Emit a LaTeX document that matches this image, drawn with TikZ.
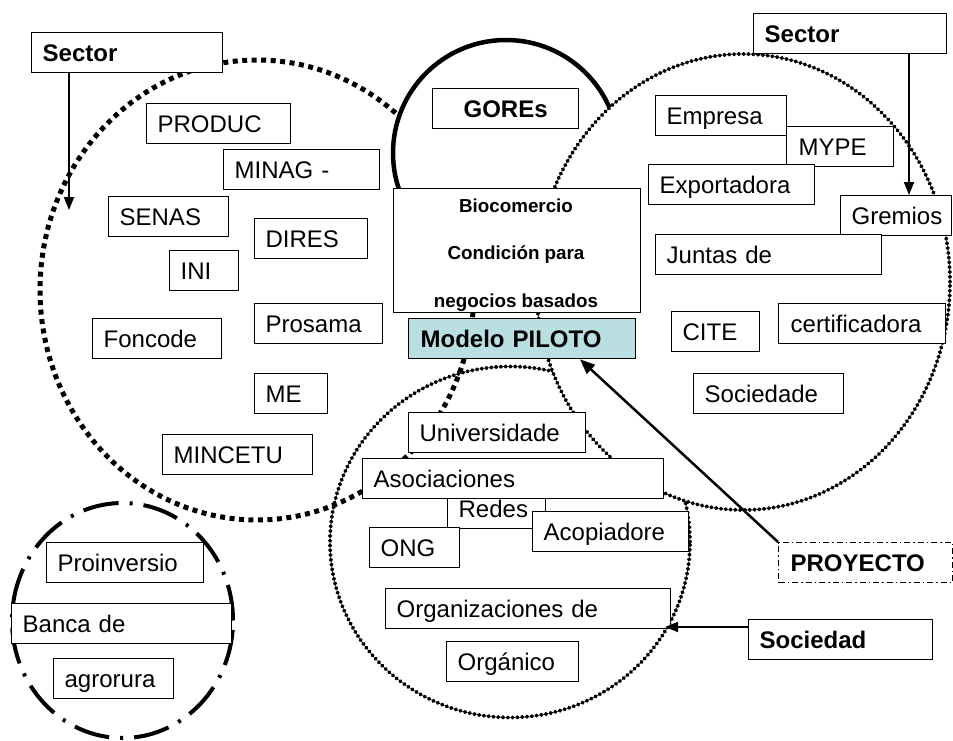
\documentclass[tikz,border=0pt]{standalone}
\usepackage{fontspec}
\setmainfont{Liberation Sans}
\usetikzlibrary{arrows.meta}
\definecolor{pilot}{RGB}{185,223,226}
\begin{document}
\begin{tikzpicture}[x=1pt,y=-1pt,
  bx/.style={draw, line width=1.3pt, fill=white, rectangle, anchor=north west, inner xsep=11pt, inner ysep=0pt, text height=17pt, text depth=0pt, minimum height=40pt, align=left, font=\fontsize{24pt}{28pt}\selectfont},
  bbx/.style={bx, font=\fontsize{24pt}{28pt}\selectfont\bfseries},
  sqdot/.style={line width=5pt, dash pattern=on 5pt off 4.5pt},
  rddot/.style={line width=3.8pt, line cap=round, dash pattern=on 0.8pt off 4pt},
  arr/.style={line width=1.8pt, -{Triangle[length=13pt,width=10pt]}},
  parr/.style={line width=2.5pt, -{Triangle[length=15pt,width=12pt]}},
  biotxt/.style={font=\fontsize{18.8pt}{22pt}\selectfont\bfseries, anchor=base, inner sep=0pt}
]
\useasboundingbox (0,0) rectangle (953,741);

% circles
\draw[sqdot] (257,290) ellipse [x radius=217pt, y radius=230pt];
\draw[line width=4pt, dash pattern=on 36pt off 11pt on 3pt off 11pt] (122.5,620.5) ellipse [x radius=110.5pt, y radius=117.5pt];
\draw[line width=4.5pt, fill=white] (506,153) circle [radius=113pt];
\draw[rddot] (510,542) ellipse [x radius=180pt, y radius=175.5pt];
\draw[rddot, fill=white] (743,282) ellipse [x radius=207pt, y radius=228pt];

% left sector
\node[bbx, text width=169pt] (sectorL) at (31,32) {Sector};
\node[bx, text width=122pt] (produc) at (146,103) {PRODUC};
\node[bx, text width=134pt] (minag) at (223,149) {MINAG -};
\node[bx, text width=98pt] (senas) at (108,196) {SENAS};
\node[bx, text width=91pt] (dires) at (254,218) {DIRES};
\node[bx, text width=47pt] (ini) at (169,250) {INI};
\node[bx, text width=106pt] (prosama) at (254,303) {Prosama};
\node[bx, text width=107pt] (foncode) at (92,318) {Foncode};
\node[bx, text width=51pt] (me) at (254,373) {ME};
\node[bx, text width=128pt] (mincetu) at (162,434) {MINCETU};

% center
\node[bbx, text width=124pt, align=center] (gores) at (432,88) {GOREs};
\node[draw, line width=1.3pt, fill=white, anchor=north west, minimum width=247pt, minimum height=124pt, inner sep=0pt] (bio) at (393,188) {};
\begin{scope}
\clip (394,189) rectangle (639,311);
\node[biotxt] (bt1) at (516,212) {Biocomercio};
\node[biotxt] (bt2) at (516,259.5) {Condición para};
\node[biotxt] (bt3) at (516,307) {negocios basados};
\end{scope}
\node[bbx, fill=pilot, inner xsep=12pt, text width=203pt] (piloto) at (408,318) {Modelo PILOTO};

% right sector
\node[bbx, text width=171pt] (sectorR) at (753,13) {Sector};
\node[bx, text width=109pt] (empresa) at (655,95) {Empresa};
\node[bx, inner xsep=12pt, text width=83pt] (mype) at (786,126) {MYPE};
\node[bx, text width=144pt] (export) at (648,164) {Exportadora};
\node[bx, text width=89pt] (gremios) at (840,195) {Gremios};
\node[bx, text width=204pt] (juntas) at (655,234) {Juntas de};
\node[bx, text width=66pt] (cite) at (671,311) {CITE};
\node[bx, inner xsep=12pt, text width=143pt] (certif) at (778,303) {certificadora};
\node[bx, text width=128pt] (socied) at (693,373) {Sociedade};
\node[bbx, inner xsep=12pt, text width=150pt, dash pattern=on 6pt off 3pt on 1.5pt off 3pt] (proyecto) at (778,542) {PROYECTO};
\node[bbx, text width=162pt] (sociedad) at (748,619) {Sociedad};

% lower
\node[bx, text width=76pt] (redes) at (447,488) {Redes};
\node[bx, text width=279pt] (asoc) at (362,458) {Asociaciones};
\node[bx, text width=155pt] (univ) at (408,412) {Universidade};
\node[bx, text width=68pt] (ong) at (369,527) {ONG};
\node[bx, text width=134pt] (acop) at (532,511) {Acopiadore};
\node[bx, text width=263pt] (organiz) at (385,588) {Organizaciones de};
\node[bx, text width=110pt] (organico) at (446,641) {Orgánico};

% bottom-left
\node[bx, text width=135pt] (proinv) at (46,542) {Proinversio};
\node[bx, text width=198pt] (banca) at (11,603) {Banca de};
\node[bx, text width=98pt] (agro) at (53,658) {agrorura};

% arrows
\coordinate (aL) at (69,210);
\draw[arr] (aL |- sectorL.south) -- (aL);
\coordinate (xR) at (909,0);
\draw[arr] (xR |- sectorR.south) -- (xR |- gremios.north);
\coordinate (aS) at (665,627);
\draw[arr] (aS -| sociedad.west) -- (aS);
\coordinate (pT) at (580,0);
\draw[parr] (proyecto.north west) -- (pT |- piloto.south);
\end{tikzpicture}
\end{document}
